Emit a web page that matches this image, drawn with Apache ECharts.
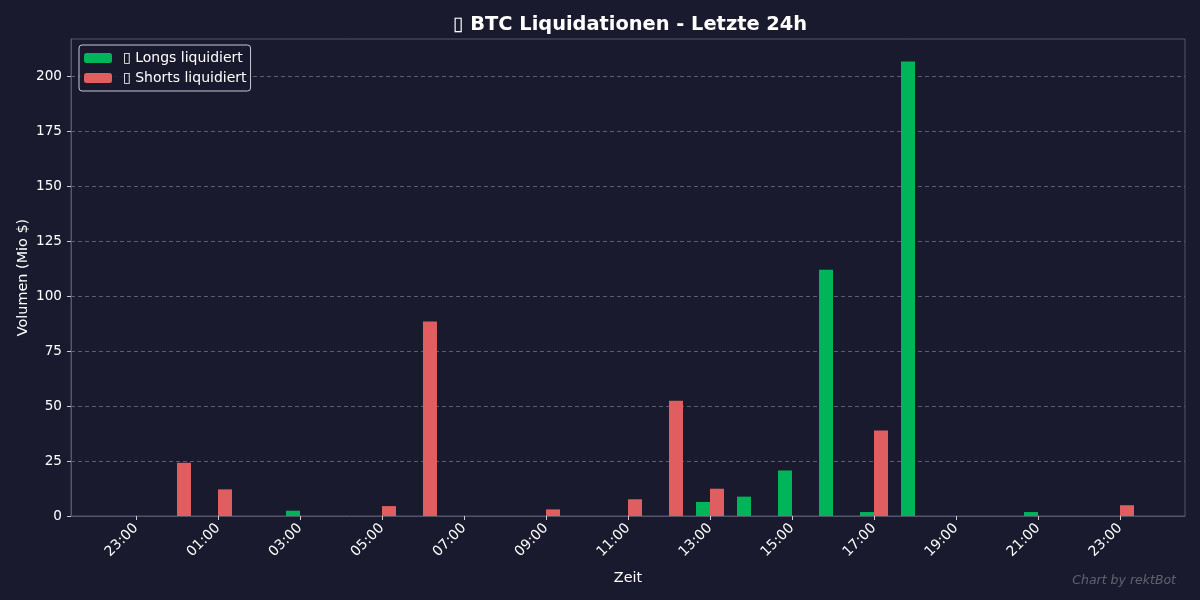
<!DOCTYPE html>
<html>
<head>
<meta charset="utf-8">
<script src="https://cdn.jsdelivr.net/npm/echarts@6/dist/echarts.min.js"></script>
<style>
  html, body { margin: 0; padding: 0; background: #1a1a2e; }
  #chart { width: 1200px; height: 600px; }
</style>
</head>
<body>
<div id="chart"></div>
<script>
// hourly slots, first 23:00 (yesterday) through 23:00 (today)
const hourLabels = ['23:00', '00:00', '01:00', '02:00', '03:00', '04:00', '05:00', '06:00', '07:00',
  '08:00', '09:00', '10:00', '11:00', '12:00', '13:00', '14:00', '15:00', '16:00', '17:00',
  '18:00', '19:00', '20:00', '21:00', '22:00', '23:00']
const longs = [0, 0, 0, 0, 2.4, 0, 0, 0, 0, 0, 0, 0, 0, 0, 6.4, 8.8, 20.7, 112, 1.8, 206.7, 0, 0, 1.8, 0, 0]
const shorts = [0, 24.2, 12.1, 0, 0, 0, 4.5, 88.4, 0, 0, 3.0, 0, 7.6, 52.4, 12.4, 0, 0, 0, 38.9, 0, 0, 0, 0, 0, 4.9]
const tickSlots = [0, 2, 4, 6, 8, 10, 12, 14, 16, 18, 20, 22, 24]
const yTicks = [0, 25, 50, 75, 100, 125, 150, 175, 200]

const chart = echarts.init(document.getElementById('chart'))

const textColor = '#ffffff'
const spineColor = '#55556a'
const font = 'DejaVu Sans'

chart.setOption({
  backgroundColor: '#1a1a2e',
  animation: false,
  textStyle: { fontFamily: font },
  title: {
    text: '▯ BTC Liquidationen - Letzte 24h',
    left: 625,
    textAlign: 'center',
    top: 10,
    textStyle: { color: textColor, fontSize: 19.4, fontWeight: 'bold', fontFamily: font }
  },
  legend: {
    orient: 'vertical',
    left: 79,
    top: 45,
    padding: [6, 4, 6, 5],
    itemWidth: 28,
    itemHeight: 10,
    itemGap: 6,
    backgroundColor: 'rgba(26,26,46,0.85)',
    borderColor: '#c8c8d0',
    borderWidth: 1,
    borderRadius: 3,
    textStyle: { color: textColor, fontSize: 14, fontFamily: font, padding: [0, 0, 0, 6] },
    data: ['▯ Longs liquidiert', '▯ Shorts liquidiert']
  },
  grid: {
    left: 71,
    right: 15,
    top: 39,
    bottom: 84,
    show: true,
    borderColor: spineColor,
    borderWidth: 1
  },
  xAxis: {
    type: 'value',
    min: -1.585,
    max: 25.585,
    name: 'Zeit',
    nameLocation: 'middle',
    nameGap: 55,
    nameTextStyle: { color: textColor, fontSize: 14.4, fontFamily: font },
    axisLine: { show: true, onZero: false, lineStyle: { color: spineColor } },
    axisTick: { show: true, length: 4, customValues: tickSlots, lineStyle: { color: '#cccccc' } },
    axisLabel: {
      customValues: tickSlots,
      rotate: 45,
      margin: 10,
      color: textColor,
      fontSize: 14,
      fontFamily: font,
      formatter: (v) => hourLabels[Math.round(v)]
    },
    splitLine: { show: false }
  },
  yAxis: {
    type: 'value',
    min: 0,
    max: 216.9,
    name: 'Volumen (Mio $)',
    nameLocation: 'middle',
    nameGap: 41,
    nameMoveOverlap: false,
    nameTextStyle: { color: textColor, fontSize: 14.4, fontFamily: font },
    axisLine: { show: true, onZero: false, lineStyle: { color: spineColor } },
    axisTick: { show: true, length: 4, customValues: yTicks, lineStyle: { color: '#cccccc' } },
    axisLabel: { customValues: yTicks, color: textColor, fontSize: 13.6, fontFamily: font, margin: 9 },
    splitLine: {
      show: true,
      customValues: yTicks,
      lineStyle: { color: '#5c5c72', type: [4, 3], width: 1 }
    }
  },
  series: [
    {
      name: '▯ Longs liquidiert',
      type: 'bar',
      barWidth: 14,
      barGap: '0%',
      data: longs.map((v, i) => [i, v]),
      itemStyle: { color: '#00b45a' }
    },
    {
      name: '▯ Shorts liquidiert',
      type: 'bar',
      barWidth: 14,
      barGap: '0%',
      data: shorts.map((v, i) => [i, v]),
      itemStyle: { color: '#e05e60' }
    }
  ],
  graphic: [
    {
      type: 'text',
      right: 24,
      top: 574,
      style: {
        text: 'Chart by rektBot',
        fill: '#62626e',
        font: 'italic 12.5px "DejaVu Sans"'
      }
    }
  ]
})
</script>
</body>
</html>
